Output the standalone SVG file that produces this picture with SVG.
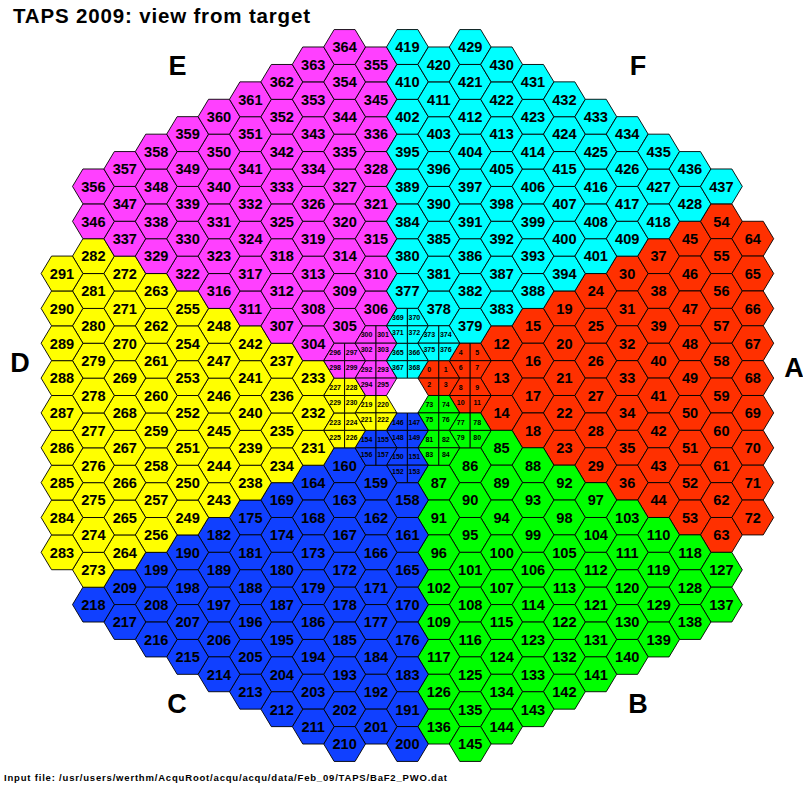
<svg xmlns="http://www.w3.org/2000/svg" width="803" height="787" viewBox="0 0 803 787">
<style>
text{font-family:"Liberation Sans",Arial,sans-serif;font-weight:bold;fill:#000;stroke:none}
.n text{font-size:14.6px;text-anchor:middle}
.s text{font-size:7px;text-anchor:middle}
.cell{stroke:#000;stroke-width:.9}
.A{fill:#ff3000}.B{fill:#00ff00}.C{fill:#1040ff}.D{fill:#ffff00}.E{fill:#ff40ff}.F{fill:#00ffff}
.l{font-size:27px;text-anchor:middle}
</style>
<defs>
<path id="h" class="cell" d="M-20.9 0L-10.45-17.43H10.45L20.9 0L10.45 17.43H-10.45Z"/>
<path id="q1" class="cell" d="M0 0H-20.9L-10.45-17.43H0Z"/>
<path id="q2" class="cell" d="M0 0V-17.43H10.45L20.9 0Z"/>
<path id="q3" class="cell" d="M0 0H-20.9L-10.45 17.43H0Z"/>
<path id="q4" class="cell" d="M0 0H20.9L10.45 17.43H0Z"/>
</defs>
<rect width="803" height="787" fill="#fff"/>
<g id="sector-A" class="A n">
<g id="n12" transform="translate(501.6 343.2)"><use href="#h"/><text y="5.3">12</text></g>
<g id="n13" transform="translate(501.6 378.1)"><use href="#h"/><text y="5.3">13</text></g>
<g id="n14" transform="translate(501.6 412.9)"><use href="#h"/><text y="5.3">14</text></g>
<g id="n15" transform="translate(533 325.8)"><use href="#h"/><text y="5.3">15</text></g>
<g id="n16" transform="translate(533 360.7)"><use href="#h"/><text y="5.3">16</text></g>
<g id="n17" transform="translate(533 395.5)"><use href="#h"/><text y="5.3">17</text></g>
<g id="n18" transform="translate(533 430.4)"><use href="#h"/><text y="5.3">18</text></g>
<g id="n19" transform="translate(564.4 308.4)"><use href="#h"/><text y="5.3">19</text></g>
<g id="n20" transform="translate(564.4 343.2)"><use href="#h"/><text y="5.3">20</text></g>
<g id="n21" transform="translate(564.4 378.1)"><use href="#h"/><text y="5.3">21</text></g>
<g id="n22" transform="translate(564.4 412.9)"><use href="#h"/><text y="5.3">22</text></g>
<g id="n23" transform="translate(564.4 447.8)"><use href="#h"/><text y="5.3">23</text></g>
<g id="n24" transform="translate(595.8 291)"><use href="#h"/><text y="5.3">24</text></g>
<g id="n25" transform="translate(595.8 325.8)"><use href="#h"/><text y="5.3">25</text></g>
<g id="n26" transform="translate(595.8 360.7)"><use href="#h"/><text y="5.3">26</text></g>
<g id="n27" transform="translate(595.8 395.5)"><use href="#h"/><text y="5.3">27</text></g>
<g id="n28" transform="translate(595.8 430.4)"><use href="#h"/><text y="5.3">28</text></g>
<g id="n29" transform="translate(595.8 465.2)"><use href="#h"/><text y="5.3">29</text></g>
<g id="n30" transform="translate(627.2 273.5)"><use href="#h"/><text y="5.3">30</text></g>
<g id="n31" transform="translate(627.2 308.4)"><use href="#h"/><text y="5.3">31</text></g>
<g id="n32" transform="translate(627.2 343.2)"><use href="#h"/><text y="5.3">32</text></g>
<g id="n33" transform="translate(627.2 378.1)"><use href="#h"/><text y="5.3">33</text></g>
<g id="n34" transform="translate(627.2 412.9)"><use href="#h"/><text y="5.3">34</text></g>
<g id="n35" transform="translate(627.2 447.8)"><use href="#h"/><text y="5.3">35</text></g>
<g id="n36" transform="translate(627.2 482.6)"><use href="#h"/><text y="5.3">36</text></g>
<g id="n37" transform="translate(658.6 256.1)"><use href="#h"/><text y="5.3">37</text></g>
<g id="n38" transform="translate(658.6 291)"><use href="#h"/><text y="5.3">38</text></g>
<g id="n39" transform="translate(658.6 325.8)"><use href="#h"/><text y="5.3">39</text></g>
<g id="n40" transform="translate(658.6 360.7)"><use href="#h"/><text y="5.3">40</text></g>
<g id="n41" transform="translate(658.6 395.5)"><use href="#h"/><text y="5.3">41</text></g>
<g id="n42" transform="translate(658.6 430.4)"><use href="#h"/><text y="5.3">42</text></g>
<g id="n43" transform="translate(658.6 465.2)"><use href="#h"/><text y="5.3">43</text></g>
<g id="n44" transform="translate(658.6 500.1)"><use href="#h"/><text y="5.3">44</text></g>
<g id="n45" transform="translate(690 238.7)"><use href="#h"/><text y="5.3">45</text></g>
<g id="n46" transform="translate(690 273.5)"><use href="#h"/><text y="5.3">46</text></g>
<g id="n47" transform="translate(690 308.4)"><use href="#h"/><text y="5.3">47</text></g>
<g id="n48" transform="translate(690 343.2)"><use href="#h"/><text y="5.3">48</text></g>
<g id="n49" transform="translate(690 378.1)"><use href="#h"/><text y="5.3">49</text></g>
<g id="n50" transform="translate(690 412.9)"><use href="#h"/><text y="5.3">50</text></g>
<g id="n51" transform="translate(690 447.8)"><use href="#h"/><text y="5.3">51</text></g>
<g id="n52" transform="translate(690 482.6)"><use href="#h"/><text y="5.3">52</text></g>
<g id="n53" transform="translate(690 517.5)"><use href="#h"/><text y="5.3">53</text></g>
<g id="n54" transform="translate(721.4 221.3)"><use href="#h"/><text y="5.3">54</text></g>
<g id="n55" transform="translate(721.4 256.1)"><use href="#h"/><text y="5.3">55</text></g>
<g id="n56" transform="translate(721.4 291)"><use href="#h"/><text y="5.3">56</text></g>
<g id="n57" transform="translate(721.4 325.8)"><use href="#h"/><text y="5.3">57</text></g>
<g id="n58" transform="translate(721.4 360.7)"><use href="#h"/><text y="5.3">58</text></g>
<g id="n59" transform="translate(721.4 395.5)"><use href="#h"/><text y="5.3">59</text></g>
<g id="n60" transform="translate(721.4 430.4)"><use href="#h"/><text y="5.3">60</text></g>
<g id="n61" transform="translate(721.4 465.2)"><use href="#h"/><text y="5.3">61</text></g>
<g id="n62" transform="translate(721.4 500.1)"><use href="#h"/><text y="5.3">62</text></g>
<g id="n63" transform="translate(721.4 534.9)"><use href="#h"/><text y="5.3">63</text></g>
<g id="n64" transform="translate(752.8 238.7)"><use href="#h"/><text y="5.3">64</text></g>
<g id="n65" transform="translate(752.8 273.5)"><use href="#h"/><text y="5.3">65</text></g>
<g id="n66" transform="translate(752.8 308.4)"><use href="#h"/><text y="5.3">66</text></g>
<g id="n67" transform="translate(752.8 343.2)"><use href="#h"/><text y="5.3">67</text></g>
<g id="n68" transform="translate(752.8 378.1)"><use href="#h"/><text y="5.3">68</text></g>
<g id="n69" transform="translate(752.8 412.9)"><use href="#h"/><text y="5.3">69</text></g>
<g id="n70" transform="translate(752.8 447.8)"><use href="#h"/><text y="5.3">70</text></g>
<g id="n71" transform="translate(752.8 482.6)"><use href="#h"/><text y="5.3">71</text></g>
<g id="n72" transform="translate(752.8 517.5)"><use href="#h"/><text y="5.3">72</text></g>
</g>
<g id="sector-B" class="B n">
<g id="n85" transform="translate(501.6 447.8)"><use href="#h"/><text y="5.3">85</text></g>
<g id="n86" transform="translate(470.2 465.2)"><use href="#h"/><text y="5.3">86</text></g>
<g id="n87" transform="translate(438.8 482.6)"><use href="#h"/><text y="5.3">87</text></g>
<g id="n88" transform="translate(533 465.2)"><use href="#h"/><text y="5.3">88</text></g>
<g id="n89" transform="translate(501.6 482.6)"><use href="#h"/><text y="5.3">89</text></g>
<g id="n90" transform="translate(470.2 500.1)"><use href="#h"/><text y="5.3">90</text></g>
<g id="n91" transform="translate(438.8 517.5)"><use href="#h"/><text y="5.3">91</text></g>
<g id="n92" transform="translate(564.4 482.6)"><use href="#h"/><text y="5.3">92</text></g>
<g id="n93" transform="translate(533 500.1)"><use href="#h"/><text y="5.3">93</text></g>
<g id="n94" transform="translate(501.6 517.5)"><use href="#h"/><text y="5.3">94</text></g>
<g id="n95" transform="translate(470.2 534.9)"><use href="#h"/><text y="5.3">95</text></g>
<g id="n96" transform="translate(438.8 552.3)"><use href="#h"/><text y="5.3">96</text></g>
<g id="n97" transform="translate(595.8 500.1)"><use href="#h"/><text y="5.3">97</text></g>
<g id="n98" transform="translate(564.4 517.5)"><use href="#h"/><text y="5.3">98</text></g>
<g id="n99" transform="translate(533 534.9)"><use href="#h"/><text y="5.3">99</text></g>
<g id="n100" transform="translate(501.6 552.3)"><use href="#h"/><text y="5.3">100</text></g>
<g id="n101" transform="translate(470.2 569.8)"><use href="#h"/><text y="5.3">101</text></g>
<g id="n102" transform="translate(438.8 587.2)"><use href="#h"/><text y="5.3">102</text></g>
<g id="n103" transform="translate(627.2 517.5)"><use href="#h"/><text y="5.3">103</text></g>
<g id="n104" transform="translate(595.8 534.9)"><use href="#h"/><text y="5.3">104</text></g>
<g id="n105" transform="translate(564.4 552.3)"><use href="#h"/><text y="5.3">105</text></g>
<g id="n106" transform="translate(533 569.8)"><use href="#h"/><text y="5.3">106</text></g>
<g id="n107" transform="translate(501.6 587.2)"><use href="#h"/><text y="5.3">107</text></g>
<g id="n108" transform="translate(470.2 604.6)"><use href="#h"/><text y="5.3">108</text></g>
<g id="n109" transform="translate(438.8 622)"><use href="#h"/><text y="5.3">109</text></g>
<g id="n110" transform="translate(658.6 534.9)"><use href="#h"/><text y="5.3">110</text></g>
<g id="n111" transform="translate(627.2 552.3)"><use href="#h"/><text y="5.3">111</text></g>
<g id="n112" transform="translate(595.8 569.8)"><use href="#h"/><text y="5.3">112</text></g>
<g id="n113" transform="translate(564.4 587.2)"><use href="#h"/><text y="5.3">113</text></g>
<g id="n114" transform="translate(533 604.6)"><use href="#h"/><text y="5.3">114</text></g>
<g id="n115" transform="translate(501.6 622)"><use href="#h"/><text y="5.3">115</text></g>
<g id="n116" transform="translate(470.2 639.5)"><use href="#h"/><text y="5.3">116</text></g>
<g id="n117" transform="translate(438.8 656.9)"><use href="#h"/><text y="5.3">117</text></g>
<g id="n118" transform="translate(690 552.3)"><use href="#h"/><text y="5.3">118</text></g>
<g id="n119" transform="translate(658.6 569.8)"><use href="#h"/><text y="5.3">119</text></g>
<g id="n120" transform="translate(627.2 587.2)"><use href="#h"/><text y="5.3">120</text></g>
<g id="n121" transform="translate(595.8 604.6)"><use href="#h"/><text y="5.3">121</text></g>
<g id="n122" transform="translate(564.4 622)"><use href="#h"/><text y="5.3">122</text></g>
<g id="n123" transform="translate(533 639.5)"><use href="#h"/><text y="5.3">123</text></g>
<g id="n124" transform="translate(501.6 656.9)"><use href="#h"/><text y="5.3">124</text></g>
<g id="n125" transform="translate(470.2 674.3)"><use href="#h"/><text y="5.3">125</text></g>
<g id="n126" transform="translate(438.8 691.7)"><use href="#h"/><text y="5.3">126</text></g>
<g id="n127" transform="translate(721.4 569.8)"><use href="#h"/><text y="5.3">127</text></g>
<g id="n128" transform="translate(690 587.2)"><use href="#h"/><text y="5.3">128</text></g>
<g id="n129" transform="translate(658.6 604.6)"><use href="#h"/><text y="5.3">129</text></g>
<g id="n130" transform="translate(627.2 622)"><use href="#h"/><text y="5.3">130</text></g>
<g id="n131" transform="translate(595.8 639.5)"><use href="#h"/><text y="5.3">131</text></g>
<g id="n132" transform="translate(564.4 656.9)"><use href="#h"/><text y="5.3">132</text></g>
<g id="n133" transform="translate(533 674.3)"><use href="#h"/><text y="5.3">133</text></g>
<g id="n134" transform="translate(501.6 691.7)"><use href="#h"/><text y="5.3">134</text></g>
<g id="n135" transform="translate(470.2 709.2)"><use href="#h"/><text y="5.3">135</text></g>
<g id="n136" transform="translate(438.8 726.6)"><use href="#h"/><text y="5.3">136</text></g>
<g id="n137" transform="translate(721.4 604.6)"><use href="#h"/><text y="5.3">137</text></g>
<g id="n138" transform="translate(690 622)"><use href="#h"/><text y="5.3">138</text></g>
<g id="n139" transform="translate(658.6 639.5)"><use href="#h"/><text y="5.3">139</text></g>
<g id="n140" transform="translate(627.2 656.9)"><use href="#h"/><text y="5.3">140</text></g>
<g id="n141" transform="translate(595.8 674.3)"><use href="#h"/><text y="5.3">141</text></g>
<g id="n142" transform="translate(564.4 691.7)"><use href="#h"/><text y="5.3">142</text></g>
<g id="n143" transform="translate(533 709.2)"><use href="#h"/><text y="5.3">143</text></g>
<g id="n144" transform="translate(501.6 726.6)"><use href="#h"/><text y="5.3">144</text></g>
<g id="n145" transform="translate(470.2 744)"><use href="#h"/><text y="5.3">145</text></g>
</g>
<g id="sector-C" class="C n">
<g id="n158" transform="translate(407.4 500.1)"><use href="#h"/><text y="5.3">158</text></g>
<g id="n159" transform="translate(376 482.6)"><use href="#h"/><text y="5.3">159</text></g>
<g id="n160" transform="translate(344.6 465.2)"><use href="#h"/><text y="5.3">160</text></g>
<g id="n161" transform="translate(407.4 534.9)"><use href="#h"/><text y="5.3">161</text></g>
<g id="n162" transform="translate(376 517.5)"><use href="#h"/><text y="5.3">162</text></g>
<g id="n163" transform="translate(344.6 500.1)"><use href="#h"/><text y="5.3">163</text></g>
<g id="n164" transform="translate(313.2 482.6)"><use href="#h"/><text y="5.3">164</text></g>
<g id="n165" transform="translate(407.4 569.8)"><use href="#h"/><text y="5.3">165</text></g>
<g id="n166" transform="translate(376 552.3)"><use href="#h"/><text y="5.3">166</text></g>
<g id="n167" transform="translate(344.6 534.9)"><use href="#h"/><text y="5.3">167</text></g>
<g id="n168" transform="translate(313.2 517.5)"><use href="#h"/><text y="5.3">168</text></g>
<g id="n169" transform="translate(281.8 500.1)"><use href="#h"/><text y="5.3">169</text></g>
<g id="n170" transform="translate(407.4 604.6)"><use href="#h"/><text y="5.3">170</text></g>
<g id="n171" transform="translate(376 587.2)"><use href="#h"/><text y="5.3">171</text></g>
<g id="n172" transform="translate(344.6 569.8)"><use href="#h"/><text y="5.3">172</text></g>
<g id="n173" transform="translate(313.2 552.3)"><use href="#h"/><text y="5.3">173</text></g>
<g id="n174" transform="translate(281.8 534.9)"><use href="#h"/><text y="5.3">174</text></g>
<g id="n175" transform="translate(250.4 517.5)"><use href="#h"/><text y="5.3">175</text></g>
<g id="n176" transform="translate(407.4 639.5)"><use href="#h"/><text y="5.3">176</text></g>
<g id="n177" transform="translate(376 622)"><use href="#h"/><text y="5.3">177</text></g>
<g id="n178" transform="translate(344.6 604.6)"><use href="#h"/><text y="5.3">178</text></g>
<g id="n179" transform="translate(313.2 587.2)"><use href="#h"/><text y="5.3">179</text></g>
<g id="n180" transform="translate(281.8 569.8)"><use href="#h"/><text y="5.3">180</text></g>
<g id="n181" transform="translate(250.4 552.3)"><use href="#h"/><text y="5.3">181</text></g>
<g id="n182" transform="translate(219 534.9)"><use href="#h"/><text y="5.3">182</text></g>
<g id="n183" transform="translate(407.4 674.3)"><use href="#h"/><text y="5.3">183</text></g>
<g id="n184" transform="translate(376 656.9)"><use href="#h"/><text y="5.3">184</text></g>
<g id="n185" transform="translate(344.6 639.5)"><use href="#h"/><text y="5.3">185</text></g>
<g id="n186" transform="translate(313.2 622)"><use href="#h"/><text y="5.3">186</text></g>
<g id="n187" transform="translate(281.8 604.6)"><use href="#h"/><text y="5.3">187</text></g>
<g id="n188" transform="translate(250.4 587.2)"><use href="#h"/><text y="5.3">188</text></g>
<g id="n189" transform="translate(219 569.8)"><use href="#h"/><text y="5.3">189</text></g>
<g id="n190" transform="translate(187.6 552.3)"><use href="#h"/><text y="5.3">190</text></g>
<g id="n191" transform="translate(407.4 709.2)"><use href="#h"/><text y="5.3">191</text></g>
<g id="n192" transform="translate(376 691.7)"><use href="#h"/><text y="5.3">192</text></g>
<g id="n193" transform="translate(344.6 674.3)"><use href="#h"/><text y="5.3">193</text></g>
<g id="n194" transform="translate(313.2 656.9)"><use href="#h"/><text y="5.3">194</text></g>
<g id="n195" transform="translate(281.8 639.5)"><use href="#h"/><text y="5.3">195</text></g>
<g id="n196" transform="translate(250.4 622)"><use href="#h"/><text y="5.3">196</text></g>
<g id="n197" transform="translate(219 604.6)"><use href="#h"/><text y="5.3">197</text></g>
<g id="n198" transform="translate(187.6 587.2)"><use href="#h"/><text y="5.3">198</text></g>
<g id="n199" transform="translate(156.2 569.8)"><use href="#h"/><text y="5.3">199</text></g>
<g id="n200" transform="translate(407.4 744)"><use href="#h"/><text y="5.3">200</text></g>
<g id="n201" transform="translate(376 726.6)"><use href="#h"/><text y="5.3">201</text></g>
<g id="n202" transform="translate(344.6 709.2)"><use href="#h"/><text y="5.3">202</text></g>
<g id="n203" transform="translate(313.2 691.7)"><use href="#h"/><text y="5.3">203</text></g>
<g id="n204" transform="translate(281.8 674.3)"><use href="#h"/><text y="5.3">204</text></g>
<g id="n205" transform="translate(250.4 656.9)"><use href="#h"/><text y="5.3">205</text></g>
<g id="n206" transform="translate(219 639.5)"><use href="#h"/><text y="5.3">206</text></g>
<g id="n207" transform="translate(187.6 622)"><use href="#h"/><text y="5.3">207</text></g>
<g id="n208" transform="translate(156.2 604.6)"><use href="#h"/><text y="5.3">208</text></g>
<g id="n209" transform="translate(124.8 587.2)"><use href="#h"/><text y="5.3">209</text></g>
<g id="n210" transform="translate(344.6 744)"><use href="#h"/><text y="5.3">210</text></g>
<g id="n211" transform="translate(313.2 726.6)"><use href="#h"/><text y="5.3">211</text></g>
<g id="n212" transform="translate(281.8 709.2)"><use href="#h"/><text y="5.3">212</text></g>
<g id="n213" transform="translate(250.4 691.7)"><use href="#h"/><text y="5.3">213</text></g>
<g id="n214" transform="translate(219 674.3)"><use href="#h"/><text y="5.3">214</text></g>
<g id="n215" transform="translate(187.6 656.9)"><use href="#h"/><text y="5.3">215</text></g>
<g id="n216" transform="translate(156.2 639.5)"><use href="#h"/><text y="5.3">216</text></g>
<g id="n217" transform="translate(124.8 622)"><use href="#h"/><text y="5.3">217</text></g>
<g id="n218" transform="translate(93.4 604.6)"><use href="#h"/><text y="5.3">218</text></g>
</g>
<g id="sector-D" class="D n">
<g id="n231" transform="translate(313.2 447.8)"><use href="#h"/><text y="5.3">231</text></g>
<g id="n232" transform="translate(313.2 412.9)"><use href="#h"/><text y="5.3">232</text></g>
<g id="n233" transform="translate(313.2 378.1)"><use href="#h"/><text y="5.3">233</text></g>
<g id="n234" transform="translate(281.8 465.2)"><use href="#h"/><text y="5.3">234</text></g>
<g id="n235" transform="translate(281.8 430.4)"><use href="#h"/><text y="5.3">235</text></g>
<g id="n236" transform="translate(281.8 395.5)"><use href="#h"/><text y="5.3">236</text></g>
<g id="n237" transform="translate(281.8 360.7)"><use href="#h"/><text y="5.3">237</text></g>
<g id="n238" transform="translate(250.4 482.6)"><use href="#h"/><text y="5.3">238</text></g>
<g id="n239" transform="translate(250.4 447.8)"><use href="#h"/><text y="5.3">239</text></g>
<g id="n240" transform="translate(250.4 412.9)"><use href="#h"/><text y="5.3">240</text></g>
<g id="n241" transform="translate(250.4 378.1)"><use href="#h"/><text y="5.3">241</text></g>
<g id="n242" transform="translate(250.4 343.2)"><use href="#h"/><text y="5.3">242</text></g>
<g id="n243" transform="translate(219 500.1)"><use href="#h"/><text y="5.3">243</text></g>
<g id="n244" transform="translate(219 465.2)"><use href="#h"/><text y="5.3">244</text></g>
<g id="n245" transform="translate(219 430.4)"><use href="#h"/><text y="5.3">245</text></g>
<g id="n246" transform="translate(219 395.5)"><use href="#h"/><text y="5.3">246</text></g>
<g id="n247" transform="translate(219 360.7)"><use href="#h"/><text y="5.3">247</text></g>
<g id="n248" transform="translate(219 325.8)"><use href="#h"/><text y="5.3">248</text></g>
<g id="n249" transform="translate(187.6 517.5)"><use href="#h"/><text y="5.3">249</text></g>
<g id="n250" transform="translate(187.6 482.6)"><use href="#h"/><text y="5.3">250</text></g>
<g id="n251" transform="translate(187.6 447.8)"><use href="#h"/><text y="5.3">251</text></g>
<g id="n252" transform="translate(187.6 412.9)"><use href="#h"/><text y="5.3">252</text></g>
<g id="n253" transform="translate(187.6 378.1)"><use href="#h"/><text y="5.3">253</text></g>
<g id="n254" transform="translate(187.6 343.2)"><use href="#h"/><text y="5.3">254</text></g>
<g id="n255" transform="translate(187.6 308.4)"><use href="#h"/><text y="5.3">255</text></g>
<g id="n256" transform="translate(156.2 534.9)"><use href="#h"/><text y="5.3">256</text></g>
<g id="n257" transform="translate(156.2 500.1)"><use href="#h"/><text y="5.3">257</text></g>
<g id="n258" transform="translate(156.2 465.2)"><use href="#h"/><text y="5.3">258</text></g>
<g id="n259" transform="translate(156.2 430.4)"><use href="#h"/><text y="5.3">259</text></g>
<g id="n260" transform="translate(156.2 395.5)"><use href="#h"/><text y="5.3">260</text></g>
<g id="n261" transform="translate(156.2 360.7)"><use href="#h"/><text y="5.3">261</text></g>
<g id="n262" transform="translate(156.2 325.8)"><use href="#h"/><text y="5.3">262</text></g>
<g id="n263" transform="translate(156.2 291)"><use href="#h"/><text y="5.3">263</text></g>
<g id="n264" transform="translate(124.8 552.3)"><use href="#h"/><text y="5.3">264</text></g>
<g id="n265" transform="translate(124.8 517.5)"><use href="#h"/><text y="5.3">265</text></g>
<g id="n266" transform="translate(124.8 482.6)"><use href="#h"/><text y="5.3">266</text></g>
<g id="n267" transform="translate(124.8 447.8)"><use href="#h"/><text y="5.3">267</text></g>
<g id="n268" transform="translate(124.8 412.9)"><use href="#h"/><text y="5.3">268</text></g>
<g id="n269" transform="translate(124.8 378.1)"><use href="#h"/><text y="5.3">269</text></g>
<g id="n270" transform="translate(124.8 343.2)"><use href="#h"/><text y="5.3">270</text></g>
<g id="n271" transform="translate(124.8 308.4)"><use href="#h"/><text y="5.3">271</text></g>
<g id="n272" transform="translate(124.8 273.5)"><use href="#h"/><text y="5.3">272</text></g>
<g id="n273" transform="translate(93.4 569.8)"><use href="#h"/><text y="5.3">273</text></g>
<g id="n274" transform="translate(93.4 534.9)"><use href="#h"/><text y="5.3">274</text></g>
<g id="n275" transform="translate(93.4 500.1)"><use href="#h"/><text y="5.3">275</text></g>
<g id="n276" transform="translate(93.4 465.2)"><use href="#h"/><text y="5.3">276</text></g>
<g id="n277" transform="translate(93.4 430.4)"><use href="#h"/><text y="5.3">277</text></g>
<g id="n278" transform="translate(93.4 395.5)"><use href="#h"/><text y="5.3">278</text></g>
<g id="n279" transform="translate(93.4 360.7)"><use href="#h"/><text y="5.3">279</text></g>
<g id="n280" transform="translate(93.4 325.8)"><use href="#h"/><text y="5.3">280</text></g>
<g id="n281" transform="translate(93.4 291)"><use href="#h"/><text y="5.3">281</text></g>
<g id="n282" transform="translate(93.4 256.1)"><use href="#h"/><text y="5.3">282</text></g>
<g id="n283" transform="translate(62 552.3)"><use href="#h"/><text y="5.3">283</text></g>
<g id="n284" transform="translate(62 517.5)"><use href="#h"/><text y="5.3">284</text></g>
<g id="n285" transform="translate(62 482.6)"><use href="#h"/><text y="5.3">285</text></g>
<g id="n286" transform="translate(62 447.8)"><use href="#h"/><text y="5.3">286</text></g>
<g id="n287" transform="translate(62 412.9)"><use href="#h"/><text y="5.3">287</text></g>
<g id="n288" transform="translate(62 378.1)"><use href="#h"/><text y="5.3">288</text></g>
<g id="n289" transform="translate(62 343.2)"><use href="#h"/><text y="5.3">289</text></g>
<g id="n290" transform="translate(62 308.4)"><use href="#h"/><text y="5.3">290</text></g>
<g id="n291" transform="translate(62 273.5)"><use href="#h"/><text y="5.3">291</text></g>
</g>
<g id="sector-E" class="E n">
<g id="n304" transform="translate(313.2 343.2)"><use href="#h"/><text y="5.3">304</text></g>
<g id="n305" transform="translate(344.6 325.8)"><use href="#h"/><text y="5.3">305</text></g>
<g id="n306" transform="translate(376 308.4)"><use href="#h"/><text y="5.3">306</text></g>
<g id="n307" transform="translate(281.8 325.8)"><use href="#h"/><text y="5.3">307</text></g>
<g id="n308" transform="translate(313.2 308.4)"><use href="#h"/><text y="5.3">308</text></g>
<g id="n309" transform="translate(344.6 291)"><use href="#h"/><text y="5.3">309</text></g>
<g id="n310" transform="translate(376 273.5)"><use href="#h"/><text y="5.3">310</text></g>
<g id="n311" transform="translate(250.4 308.4)"><use href="#h"/><text y="5.3">311</text></g>
<g id="n312" transform="translate(281.8 291)"><use href="#h"/><text y="5.3">312</text></g>
<g id="n313" transform="translate(313.2 273.5)"><use href="#h"/><text y="5.3">313</text></g>
<g id="n314" transform="translate(344.6 256.1)"><use href="#h"/><text y="5.3">314</text></g>
<g id="n315" transform="translate(376 238.7)"><use href="#h"/><text y="5.3">315</text></g>
<g id="n316" transform="translate(219 291)"><use href="#h"/><text y="5.3">316</text></g>
<g id="n317" transform="translate(250.4 273.5)"><use href="#h"/><text y="5.3">317</text></g>
<g id="n318" transform="translate(281.8 256.1)"><use href="#h"/><text y="5.3">318</text></g>
<g id="n319" transform="translate(313.2 238.7)"><use href="#h"/><text y="5.3">319</text></g>
<g id="n320" transform="translate(344.6 221.3)"><use href="#h"/><text y="5.3">320</text></g>
<g id="n321" transform="translate(376 203.8)"><use href="#h"/><text y="5.3">321</text></g>
<g id="n322" transform="translate(187.6 273.5)"><use href="#h"/><text y="5.3">322</text></g>
<g id="n323" transform="translate(219 256.1)"><use href="#h"/><text y="5.3">323</text></g>
<g id="n324" transform="translate(250.4 238.7)"><use href="#h"/><text y="5.3">324</text></g>
<g id="n325" transform="translate(281.8 221.3)"><use href="#h"/><text y="5.3">325</text></g>
<g id="n326" transform="translate(313.2 203.8)"><use href="#h"/><text y="5.3">326</text></g>
<g id="n327" transform="translate(344.6 186.4)"><use href="#h"/><text y="5.3">327</text></g>
<g id="n328" transform="translate(376 169)"><use href="#h"/><text y="5.3">328</text></g>
<g id="n329" transform="translate(156.2 256.1)"><use href="#h"/><text y="5.3">329</text></g>
<g id="n330" transform="translate(187.6 238.7)"><use href="#h"/><text y="5.3">330</text></g>
<g id="n331" transform="translate(219 221.3)"><use href="#h"/><text y="5.3">331</text></g>
<g id="n332" transform="translate(250.4 203.8)"><use href="#h"/><text y="5.3">332</text></g>
<g id="n333" transform="translate(281.8 186.4)"><use href="#h"/><text y="5.3">333</text></g>
<g id="n334" transform="translate(313.2 169)"><use href="#h"/><text y="5.3">334</text></g>
<g id="n335" transform="translate(344.6 151.6)"><use href="#h"/><text y="5.3">335</text></g>
<g id="n336" transform="translate(376 134.1)"><use href="#h"/><text y="5.3">336</text></g>
<g id="n337" transform="translate(124.8 238.7)"><use href="#h"/><text y="5.3">337</text></g>
<g id="n338" transform="translate(156.2 221.3)"><use href="#h"/><text y="5.3">338</text></g>
<g id="n339" transform="translate(187.6 203.8)"><use href="#h"/><text y="5.3">339</text></g>
<g id="n340" transform="translate(219 186.4)"><use href="#h"/><text y="5.3">340</text></g>
<g id="n341" transform="translate(250.4 169)"><use href="#h"/><text y="5.3">341</text></g>
<g id="n342" transform="translate(281.8 151.6)"><use href="#h"/><text y="5.3">342</text></g>
<g id="n343" transform="translate(313.2 134.1)"><use href="#h"/><text y="5.3">343</text></g>
<g id="n344" transform="translate(344.6 116.7)"><use href="#h"/><text y="5.3">344</text></g>
<g id="n345" transform="translate(376 99.3)"><use href="#h"/><text y="5.3">345</text></g>
<g id="n346" transform="translate(93.4 221.3)"><use href="#h"/><text y="5.3">346</text></g>
<g id="n347" transform="translate(124.8 203.8)"><use href="#h"/><text y="5.3">347</text></g>
<g id="n348" transform="translate(156.2 186.4)"><use href="#h"/><text y="5.3">348</text></g>
<g id="n349" transform="translate(187.6 169)"><use href="#h"/><text y="5.3">349</text></g>
<g id="n350" transform="translate(219 151.6)"><use href="#h"/><text y="5.3">350</text></g>
<g id="n351" transform="translate(250.4 134.1)"><use href="#h"/><text y="5.3">351</text></g>
<g id="n352" transform="translate(281.8 116.7)"><use href="#h"/><text y="5.3">352</text></g>
<g id="n353" transform="translate(313.2 99.3)"><use href="#h"/><text y="5.3">353</text></g>
<g id="n354" transform="translate(344.6 81.9)"><use href="#h"/><text y="5.3">354</text></g>
<g id="n355" transform="translate(376 64.4)"><use href="#h"/><text y="5.3">355</text></g>
<g id="n356" transform="translate(93.4 186.4)"><use href="#h"/><text y="5.3">356</text></g>
<g id="n357" transform="translate(124.8 169)"><use href="#h"/><text y="5.3">357</text></g>
<g id="n358" transform="translate(156.2 151.6)"><use href="#h"/><text y="5.3">358</text></g>
<g id="n359" transform="translate(187.6 134.1)"><use href="#h"/><text y="5.3">359</text></g>
<g id="n360" transform="translate(219 116.7)"><use href="#h"/><text y="5.3">360</text></g>
<g id="n361" transform="translate(250.4 99.3)"><use href="#h"/><text y="5.3">361</text></g>
<g id="n362" transform="translate(281.8 81.9)"><use href="#h"/><text y="5.3">362</text></g>
<g id="n363" transform="translate(313.2 64.4)"><use href="#h"/><text y="5.3">363</text></g>
<g id="n364" transform="translate(344.6 47)"><use href="#h"/><text y="5.3">364</text></g>
</g>
<g id="sector-F" class="F n">
<g id="n377" transform="translate(407.4 291)"><use href="#h"/><text y="5.3">377</text></g>
<g id="n378" transform="translate(438.8 308.4)"><use href="#h"/><text y="5.3">378</text></g>
<g id="n379" transform="translate(470.2 325.8)"><use href="#h"/><text y="5.3">379</text></g>
<g id="n380" transform="translate(407.4 256.1)"><use href="#h"/><text y="5.3">380</text></g>
<g id="n381" transform="translate(438.8 273.5)"><use href="#h"/><text y="5.3">381</text></g>
<g id="n382" transform="translate(470.2 291)"><use href="#h"/><text y="5.3">382</text></g>
<g id="n383" transform="translate(501.6 308.4)"><use href="#h"/><text y="5.3">383</text></g>
<g id="n384" transform="translate(407.4 221.3)"><use href="#h"/><text y="5.3">384</text></g>
<g id="n385" transform="translate(438.8 238.7)"><use href="#h"/><text y="5.3">385</text></g>
<g id="n386" transform="translate(470.2 256.1)"><use href="#h"/><text y="5.3">386</text></g>
<g id="n387" transform="translate(501.6 273.5)"><use href="#h"/><text y="5.3">387</text></g>
<g id="n388" transform="translate(533 291)"><use href="#h"/><text y="5.3">388</text></g>
<g id="n389" transform="translate(407.4 186.4)"><use href="#h"/><text y="5.3">389</text></g>
<g id="n390" transform="translate(438.8 203.8)"><use href="#h"/><text y="5.3">390</text></g>
<g id="n391" transform="translate(470.2 221.3)"><use href="#h"/><text y="5.3">391</text></g>
<g id="n392" transform="translate(501.6 238.7)"><use href="#h"/><text y="5.3">392</text></g>
<g id="n393" transform="translate(533 256.1)"><use href="#h"/><text y="5.3">393</text></g>
<g id="n394" transform="translate(564.4 273.5)"><use href="#h"/><text y="5.3">394</text></g>
<g id="n395" transform="translate(407.4 151.6)"><use href="#h"/><text y="5.3">395</text></g>
<g id="n396" transform="translate(438.8 169)"><use href="#h"/><text y="5.3">396</text></g>
<g id="n397" transform="translate(470.2 186.4)"><use href="#h"/><text y="5.3">397</text></g>
<g id="n398" transform="translate(501.6 203.8)"><use href="#h"/><text y="5.3">398</text></g>
<g id="n399" transform="translate(533 221.3)"><use href="#h"/><text y="5.3">399</text></g>
<g id="n400" transform="translate(564.4 238.7)"><use href="#h"/><text y="5.3">400</text></g>
<g id="n401" transform="translate(595.8 256.1)"><use href="#h"/><text y="5.3">401</text></g>
<g id="n402" transform="translate(407.4 116.7)"><use href="#h"/><text y="5.3">402</text></g>
<g id="n403" transform="translate(438.8 134.1)"><use href="#h"/><text y="5.3">403</text></g>
<g id="n404" transform="translate(470.2 151.6)"><use href="#h"/><text y="5.3">404</text></g>
<g id="n405" transform="translate(501.6 169)"><use href="#h"/><text y="5.3">405</text></g>
<g id="n406" transform="translate(533 186.4)"><use href="#h"/><text y="5.3">406</text></g>
<g id="n407" transform="translate(564.4 203.8)"><use href="#h"/><text y="5.3">407</text></g>
<g id="n408" transform="translate(595.8 221.3)"><use href="#h"/><text y="5.3">408</text></g>
<g id="n409" transform="translate(627.2 238.7)"><use href="#h"/><text y="5.3">409</text></g>
<g id="n410" transform="translate(407.4 81.9)"><use href="#h"/><text y="5.3">410</text></g>
<g id="n411" transform="translate(438.8 99.3)"><use href="#h"/><text y="5.3">411</text></g>
<g id="n412" transform="translate(470.2 116.7)"><use href="#h"/><text y="5.3">412</text></g>
<g id="n413" transform="translate(501.6 134.1)"><use href="#h"/><text y="5.3">413</text></g>
<g id="n414" transform="translate(533 151.6)"><use href="#h"/><text y="5.3">414</text></g>
<g id="n415" transform="translate(564.4 169)"><use href="#h"/><text y="5.3">415</text></g>
<g id="n416" transform="translate(595.8 186.4)"><use href="#h"/><text y="5.3">416</text></g>
<g id="n417" transform="translate(627.2 203.8)"><use href="#h"/><text y="5.3">417</text></g>
<g id="n418" transform="translate(658.6 221.3)"><use href="#h"/><text y="5.3">418</text></g>
<g id="n419" transform="translate(407.4 47)"><use href="#h"/><text y="5.3">419</text></g>
<g id="n420" transform="translate(438.8 64.4)"><use href="#h"/><text y="5.3">420</text></g>
<g id="n421" transform="translate(470.2 81.9)"><use href="#h"/><text y="5.3">421</text></g>
<g id="n422" transform="translate(501.6 99.3)"><use href="#h"/><text y="5.3">422</text></g>
<g id="n423" transform="translate(533 116.7)"><use href="#h"/><text y="5.3">423</text></g>
<g id="n424" transform="translate(564.4 134.1)"><use href="#h"/><text y="5.3">424</text></g>
<g id="n425" transform="translate(595.8 151.6)"><use href="#h"/><text y="5.3">425</text></g>
<g id="n426" transform="translate(627.2 169)"><use href="#h"/><text y="5.3">426</text></g>
<g id="n427" transform="translate(658.6 186.4)"><use href="#h"/><text y="5.3">427</text></g>
<g id="n428" transform="translate(690 203.8)"><use href="#h"/><text y="5.3">428</text></g>
<g id="n429" transform="translate(470.2 47)"><use href="#h"/><text y="5.3">429</text></g>
<g id="n430" transform="translate(501.6 64.4)"><use href="#h"/><text y="5.3">430</text></g>
<g id="n431" transform="translate(533 81.9)"><use href="#h"/><text y="5.3">431</text></g>
<g id="n432" transform="translate(564.4 99.3)"><use href="#h"/><text y="5.3">432</text></g>
<g id="n433" transform="translate(595.8 116.7)"><use href="#h"/><text y="5.3">433</text></g>
<g id="n434" transform="translate(627.2 134.1)"><use href="#h"/><text y="5.3">434</text></g>
<g id="n435" transform="translate(658.6 151.6)"><use href="#h"/><text y="5.3">435</text></g>
<g id="n436" transform="translate(690 169)"><use href="#h"/><text y="5.3">436</text></g>
<g id="n437" transform="translate(721.4 186.4)"><use href="#h"/><text y="5.3">437</text></g>
</g>
<g id="pwo-crystals" class="s">
<g class="A" transform="translate(438.8 378.1)"><g id="n0"><use href="#q1"/><text x="-9.5" y="-5.8">0</text></g><g id="n1"><use href="#q2"/><text x="7" y="-5.8">1</text></g><g id="n2"><use href="#q3"/><text x="-9.5" y="9.2">2</text></g><g id="n3"><use href="#q4"/><text x="7" y="9.2">3</text></g></g>
<g class="A" transform="translate(470.2 360.7)"><g id="n4"><use href="#q1"/><text x="-9.5" y="-5.8">4</text></g><g id="n5"><use href="#q2"/><text x="7" y="-5.8">5</text></g><g id="n6"><use href="#q3"/><text x="-9.5" y="9.2">6</text></g><g id="n7"><use href="#q4"/><text x="7" y="9.2">7</text></g></g>
<g class="A" transform="translate(470.2 395.5)"><g id="n8"><use href="#q1"/><text x="-9.5" y="-5.8">8</text></g><g id="n9"><use href="#q2"/><text x="7" y="-5.8">9</text></g><g id="n10"><use href="#q3"/><text x="-9.5" y="9.2">10</text></g><g id="n11"><use href="#q4"/><text x="7" y="9.2">11</text></g></g>
<g class="B" transform="translate(438.8 412.9)"><g id="n73"><use href="#q1"/><text x="-9.5" y="-5.8">73</text></g><g id="n74"><use href="#q2"/><text x="7" y="-5.8">74</text></g><g id="n75"><use href="#q3"/><text x="-9.5" y="9.2">75</text></g><g id="n76"><use href="#q4"/><text x="7" y="9.2">76</text></g></g>
<g class="B" transform="translate(470.2 430.4)"><g id="n77"><use href="#q1"/><text x="-9.5" y="-5.8">77</text></g><g id="n78"><use href="#q2"/><text x="7" y="-5.8">78</text></g><g id="n79"><use href="#q3"/><text x="-9.5" y="9.2">79</text></g><g id="n80"><use href="#q4"/><text x="7" y="9.2">80</text></g></g>
<g class="B" transform="translate(438.8 447.8)"><g id="n81"><use href="#q1"/><text x="-9.5" y="-5.8">81</text></g><g id="n82"><use href="#q2"/><text x="7" y="-5.8">82</text></g><g id="n83"><use href="#q3"/><text x="-9.5" y="9.2">83</text></g><g id="n84"><use href="#q4"/><text x="7" y="9.2">84</text></g></g>
<g class="C" transform="translate(407.4 430.4)"><g id="n146"><use href="#q1"/><text x="-9.5" y="-5.8">146</text></g><g id="n147"><use href="#q2"/><text x="7" y="-5.8">147</text></g><g id="n148"><use href="#q3"/><text x="-9.5" y="9.2">148</text></g><g id="n149"><use href="#q4"/><text x="7" y="9.2">149</text></g></g>
<g class="C" transform="translate(407.4 465.2)"><g id="n150"><use href="#q1"/><text x="-9.5" y="-5.8">150</text></g><g id="n151"><use href="#q2"/><text x="7" y="-5.8">151</text></g><g id="n152"><use href="#q3"/><text x="-9.5" y="9.2">152</text></g><g id="n153"><use href="#q4"/><text x="7" y="9.2">153</text></g></g>
<g class="C" transform="translate(376 447.8)"><g id="n154"><use href="#q1"/><text x="-9.5" y="-5.8">154</text></g><g id="n155"><use href="#q2"/><text x="7" y="-5.8">155</text></g><g id="n156"><use href="#q3"/><text x="-9.5" y="9.2">156</text></g><g id="n157"><use href="#q4"/><text x="7" y="9.2">157</text></g></g>
<g class="D" transform="translate(376 412.9)"><g id="n219"><use href="#q1"/><text x="-9.5" y="-5.8">219</text></g><g id="n220"><use href="#q2"/><text x="7" y="-5.8">220</text></g><g id="n221"><use href="#q3"/><text x="-9.5" y="9.2">221</text></g><g id="n222"><use href="#q4"/><text x="7" y="9.2">222</text></g></g>
<g class="D" transform="translate(344.6 430.4)"><g id="n223"><use href="#q1"/><text x="-9.5" y="-5.8">223</text></g><g id="n224"><use href="#q2"/><text x="7" y="-5.8">224</text></g><g id="n225"><use href="#q3"/><text x="-9.5" y="9.2">225</text></g><g id="n226"><use href="#q4"/><text x="7" y="9.2">226</text></g></g>
<g class="D" transform="translate(344.6 395.5)"><g id="n227"><use href="#q1"/><text x="-9.5" y="-5.8">227</text></g><g id="n228"><use href="#q2"/><text x="7" y="-5.8">228</text></g><g id="n229"><use href="#q3"/><text x="-9.5" y="9.2">229</text></g><g id="n230"><use href="#q4"/><text x="7" y="9.2">230</text></g></g>
<g class="E" transform="translate(376 378.1)"><g id="n292"><use href="#q1"/><text x="-9.5" y="-5.8">292</text></g><g id="n293"><use href="#q2"/><text x="7" y="-5.8">293</text></g><g id="n294"><use href="#q3"/><text x="-9.5" y="9.2">294</text></g><g id="n295"><use href="#q4"/><text x="7" y="9.2">295</text></g></g>
<g class="E" transform="translate(344.6 360.7)"><g id="n296"><use href="#q1"/><text x="-9.5" y="-5.8">296</text></g><g id="n297"><use href="#q2"/><text x="7" y="-5.8">297</text></g><g id="n298"><use href="#q3"/><text x="-9.5" y="9.2">298</text></g><g id="n299"><use href="#q4"/><text x="7" y="9.2">299</text></g></g>
<g class="E" transform="translate(376 343.2)"><g id="n300"><use href="#q1"/><text x="-9.5" y="-5.8">300</text></g><g id="n301"><use href="#q2"/><text x="7" y="-5.8">301</text></g><g id="n302"><use href="#q3"/><text x="-9.5" y="9.2">302</text></g><g id="n303"><use href="#q4"/><text x="7" y="9.2">303</text></g></g>
<g class="F" transform="translate(407.4 360.7)"><g id="n365"><use href="#q1"/><text x="-9.5" y="-5.8">365</text></g><g id="n366"><use href="#q2"/><text x="7" y="-5.8">366</text></g><g id="n367"><use href="#q3"/><text x="-9.5" y="9.2">367</text></g><g id="n368"><use href="#q4"/><text x="7" y="9.2">368</text></g></g>
<g class="F" transform="translate(407.4 325.8)"><g id="n369"><use href="#q1"/><text x="-9.5" y="-5.8">369</text></g><g id="n370"><use href="#q2"/><text x="7" y="-5.8">370</text></g><g id="n371"><use href="#q3"/><text x="-9.5" y="9.2">371</text></g><g id="n372"><use href="#q4"/><text x="7" y="9.2">372</text></g></g>
<g class="F" transform="translate(438.8 343.2)"><g id="n373"><use href="#q1"/><text x="-9.5" y="-5.8">373</text></g><g id="n374"><use href="#q2"/><text x="7" y="-5.8">374</text></g><g id="n375"><use href="#q3"/><text x="-9.5" y="9.2">375</text></g><g id="n376"><use href="#q4"/><text x="7" y="9.2">376</text></g></g>
</g>
<g id="sector-labels">
<text class="l" x="794" y="377">A</text>
<text class="l" x="638" y="713">B</text>
<text class="l" x="177" y="713">C</text>
<text class="l" x="20" y="372">D</text>
<text class="l" x="177.5" y="75">E</text>
<text class="l" x="638" y="75">F</text>
</g>
<text id="title" x="13" y="22.5" font-size="20.5" textLength="297">TAPS 2009: view from target</text>
<text id="input-file" x="4" y="781" font-size="9.5" textLength="443">Input file: /usr/users/werthm/AcquRoot/acqu/acqu/data/Feb_09/TAPS/BaF2_PWO.dat</text>
</svg>
